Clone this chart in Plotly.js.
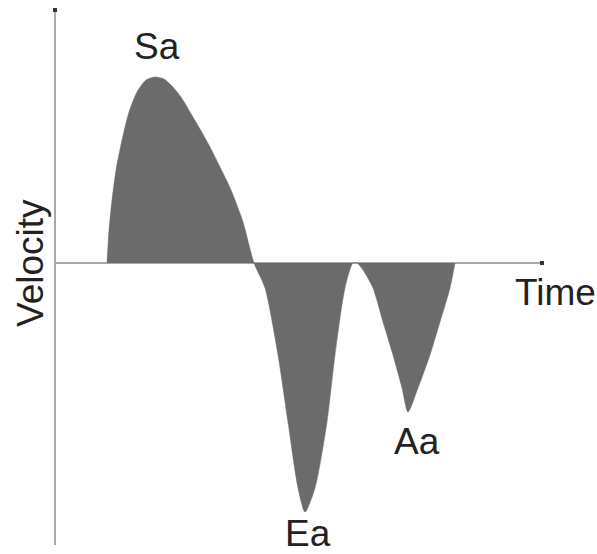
<!DOCTYPE html>
<html>
<head>
<meta charset="utf-8">
<script src="https://cdn.plot.ly/plotly-3.0.1.min.js"></script>
<style>html,body{margin:0;padding:0;background:#fff;}#chart{width:597px;height:554px;}</style>
</head>
<body>
<div id="chart"></div>
<script>
// Schematic tissue Doppler velocity profile (arbitrary units)
const time = [52, 54, 57, 61, 67, 74, 82, 91, 100, 109, 117, 126, 135, 145, 155, 165, 176, 188, 199,
              210, 223, 233, 243, 250, 260, 272, 280, 290, 298,
              302, 308, 318, 328, 338, 347, 353, 363, 375, 385, 395, 400];
const velocity = [0, 1.65, 3.15, 4.65, 6.15, 7.55, 8.55, 9.15, 9.3, 9.2, 8.85, 8.3, 7.55, 6.7, 5.8, 4.8, 3.65, 2.05, 0,
                  -1.25, -4.6, -7.95, -11.25, -12.45, -11.25, -7.95, -4.6, -1.25, 0,
                  0, -0.35, -1.25, -2.95, -4.6, -6.25, -7.45, -6.25, -4.6, -2.95, -1.25, 0];
const waveLabels = ["Sa", "Ea", "Aa"];
const labelTime = [102, 253, 362];
const labelVelocity = [10.85, -13.5, -8.9];
const xLabel = "Time";
const yLabel = "Velocity";

const xMax = 487, yMin = -14.1, yMax = 12.65;
const font = {family: "Liberation Sans, Arial, sans-serif", size: 37, color: "#222"};

const traces = [
  {
    x: time, y: velocity, type: "scatter", mode: "lines",
    line: {color: "#6b6b6b", width: 0.5, shape: "spline", smoothing: 0.7},
    fill: "tozeroy", fillcolor: "#6b6b6b", hoverinfo: "skip"
  },
  {
    x: [0, xMax], y: [yMax, 0], type: "scatter", mode: "markers",
    marker: {symbol: "square", size: 4, color: "#333"},
    cliponaxis: false, hoverinfo: "skip"
  }
];

const annotations = waveLabels.map((t, i) => ({
  text: t, x: labelTime[i], y: labelVelocity[i], xref: "x", yref: "y",
  showarrow: false, font: font, xanchor: "center", yanchor: "middle"
}));
annotations.push({text: xLabel, x: 500 / xMax, y: -1.45, xref: "paper", yref: "y",
  showarrow: false, font: font, xanchor: "center", yanchor: "middle"});
annotations.push({text: yLabel, x: -25 / xMax, y: 0, xref: "paper", yref: "y",
  showarrow: false, font: font, textangle: -90, xanchor: "center", yanchor: "middle"});

const layout = {
  width: 597, height: 554,
  margin: {l: 55, r: 55, t: 10, b: 9},
  paper_bgcolor: "#fff", plot_bgcolor: "#fff",
  showlegend: false,
  xaxis: {range: [0, xMax], showgrid: false, showticklabels: false, ticks: "",
          zeroline: true, zerolinecolor: "#a8a8a8", zerolinewidth: 2.5, showline: false},
  yaxis: {range: [yMin, yMax], showgrid: false, showticklabels: false, ticks: "",
          zeroline: true, zerolinecolor: "#a8a8a8", zerolinewidth: 2, showline: false},
  annotations: annotations
};

Plotly.newPlot("chart", traces, layout, {staticPlot: true, displayModeBar: false});
</script>
</body>
</html>
